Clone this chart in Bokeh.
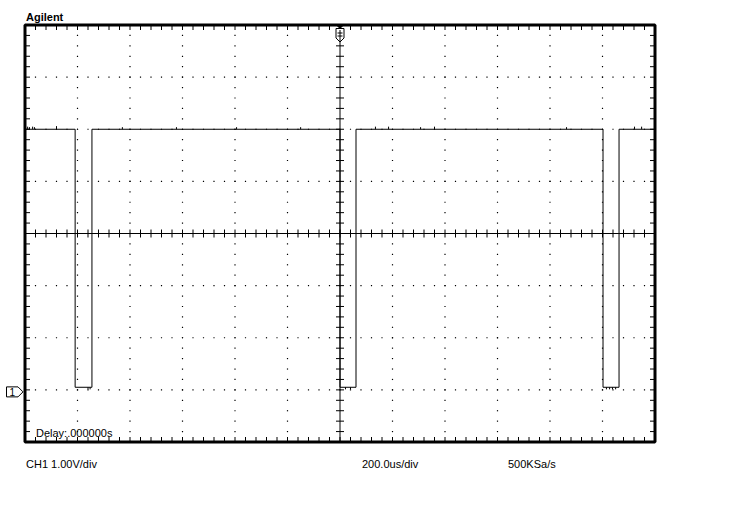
import numpy as np
from bokeh.plotting import figure
from bokeh.models import Range1d
from bokeh.core.properties import value
from bokeh.embed import file_html
from bokeh.resources import INLINE

time_per_div_us = 200.0
volt_per_div = 1.0
n_xdiv = 12
n_ydiv = 8
t_left, t_right = -1200.0, 1200.0
v_bottom, v_top = -1.0, 7.0
v_center = 3.0

trace_t = [-1200, -1009, -1009, -945, -945, 0, 0, 61, 61, 1002, 1002, 1063, 1063, 1200]
trace_v = [5.0, 5.0, 0.05, 0.05, 5.0, 5.0, 0.05, 0.05, 5.0, 5.0, 0.05, 0.05, 5.0, 5.0]

glitch_high_t = [-1190, -1183, -1171, -1164, -1080, -829, -623, -394, -150,
                 135, 185, 307, 360, 863, 1122, 1149]
glitch_high_dv = [0.05, 0.04, 0.05, 0.04, 0.06, 0.04, 0.04, 0.04, 0.04,
                  0.05, 0.05, 0.04, 0.05, 0.04, 0.05, 0.05]
glitch_low_t = [-960, -952, 21, 40, 1015, 1027, 1038, 1050]
glitch_low_dv = [-0.04, -0.04, -0.04, -0.04, -0.04, -0.04, -0.04, -0.04]

title_text = "Agilent"
delay_text = "Delay:.000000s"
ch_text = "CH1 1.00V/div"
tb_text = "200.0us/div"
rate_text = "500KSa/s"
gnd_label = "1"

# ---------------- layout (pixels of the page) ----------------
W, H = 734, 524
GL, GR = 24.5, 654.5
GT, GB = 24.5, 441.5
tpp = (t_right - t_left) / (GR - GL)
vpp = (v_top - v_bottom) / (GB - GT)
x_start = t_left - GL * tpp
x_end = t_right + (W - GR) * tpp
y_start = v_bottom - (H - GB) * vpp
y_end = v_top + GT * vpp


def X(px):
    return x_start + px * tpp


def Y(py):
    return y_end - py * vpp


p = figure(width=W, height=H, x_range=Range1d(x_start, x_end), y_range=Range1d(y_start, y_end),
           toolbar_location=None, output_backend="svg", min_border=0,
           x_axis_location=None, y_axis_location=None)
p.grid.visible = False
p.outline_line_color = None
p.background_fill_color = "white"
p.border_fill_color = "white"

# minor positions
t_minor = np.linspace(t_left, t_right, n_xdiv * 5 + 1)
v_minor = np.linspace(v_bottom, v_top, n_ydiv * 5 + 1)
t_major = np.linspace(t_left, t_right, n_xdiv + 1)
v_major = np.linspace(v_bottom, v_top, n_ydiv + 1)

# dotted graticule
dx, dy = [], []
for tm in t_major[1:-1]:
    if abs(tm) < 1e-9:
        continue
    for vm in v_minor[1:-1]:
        dx.append(tm); dy.append(vm)
for vm in v_major[1:-1]:
    if abs(vm - v_center) < 1e-9:
        continue
    for tm in t_minor[1:-1]:
        dx.append(tm); dy.append(vm)
p.rect(dx, dy, width=1.2, height=1.2, width_units="screen", height_units="screen",
       fill_color="black", line_color=None)

# center axes with ticks
p.segment([0, t_left], [v_bottom, v_center], [0, t_right], [v_top, v_center],
          line_color="black", line_width=1)
tick = 4.0
p.segment(t_minor, [v_center - tick * vpp] * len(t_minor), t_minor,
          [v_center + tick * vpp] * len(t_minor), line_color="black", line_width=1)
p.segment([-tick * tpp] * len(v_minor), v_minor, [tick * tpp] * len(v_minor), v_minor,
          line_color="black", line_width=1)

# frame ticks (inward)
ft = 5.0
n_t = len(t_minor)
n_v = len(v_minor)
p.segment(t_minor, [v_top] * n_t, t_minor, [v_top - ft * vpp] * n_t, line_color="black", line_width=1)
p.segment(t_minor, [v_bottom] * n_t, t_minor, [v_bottom + ft * vpp] * n_t, line_color="black", line_width=1)
p.segment([t_left] * n_v, v_minor, [t_left + ft * tpp] * n_v, v_minor, line_color="black", line_width=1)
p.segment([t_right] * n_v, v_minor, [t_right - ft * tpp] * n_v, v_minor, line_color="black", line_width=1)

# frame
p.quad(left=t_left, right=t_right, bottom=v_bottom, top=v_top,
       fill_color=None, line_color="black", line_width=3)

# trace
p.line(trace_t, trace_v, line_color="black", line_width=1)
gx = [[t, t] for t in glitch_high_t] + [[t, t] for t in glitch_low_t]
gy = [[5.0, 5.0 + d] for d in glitch_high_dv] + [[0.05, 0.05 + d] for d in glitch_low_dv]
p.multi_line(gx, gy, line_color="black", line_width=1)

# trigger marker at top centre
sx = [-4, 4, 4, 0, -4]
sy = [3.5, 3.5, 13, 17, 13]
p.patch([0 + a * tpp for a in sx], [v_top - b * vpp for b in sy],
        fill_color="white", line_color="black", line_width=1)
p.patch([(-3) * tpp, 3 * tpp, 0], [v_top - 0.5 * vpp, v_top - 0.5 * vpp, v_top - 3.5 * vpp],
        fill_color="black", line_color="black", line_width=1)
p.segment([0, -2.5 * tpp, -2.5 * tpp], [v_top - 5 * vpp, v_top - 8 * vpp, v_top - 11 * vpp],
          [0, 2.5 * tpp, 2.5 * tpp], [v_top - 16 * vpp, v_top - 8 * vpp, v_top - 11 * vpp],
          line_color="black", line_width=1)

# ground marker for channel 1
gnd_v = 0.0 - 2 * vpp
mx = [6, 17.5, 22.5, 17.5, 6]
my = [-5, -5, 0, 5, 5]
p.patch([X(a) for a in mx], [gnd_v - b * vpp for b in my],
        fill_color="white", line_color="black", line_width=1)
p.text([X(11.8)], [gnd_v - 0.5 * vpp], text=[gnd_label], text_font=value("Liberation Sans"),
       text_font_size="10px", text_align="center", text_baseline="middle", text_color="black")

# texts
p.text([X(25.5)], [Y(16.5)], text=[title_text], text_font=value("Liberation Sans"),
       text_font_size="11px", text_font_style="bold", text_baseline="alphabetic", text_color="black")
p.text([X(35.5)], [Y(432.5)], text=[delay_text], text_font=value("Liberation Sans"),
       text_font_size="11px", text_baseline="alphabetic", text_color="black")
p.text([X(25.5), X(361.5), X(507.5)], [Y(463.5)] * 3, text=[ch_text, tb_text, rate_text],
       text_font=value("Liberation Sans"), text_font_size="11px",
       text_baseline="alphabetic", text_color="black")

open("out.html", "w").write(file_html(p, INLINE))
